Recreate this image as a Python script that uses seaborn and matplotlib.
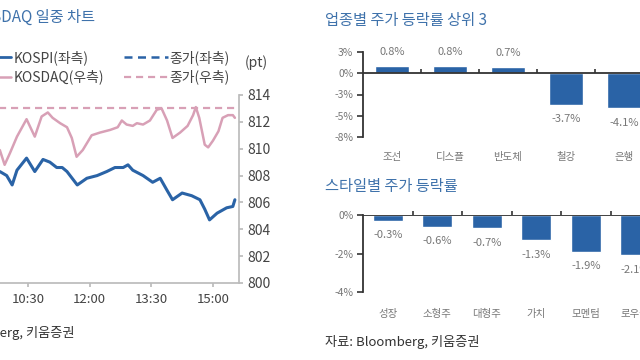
import numpy as np
import pandas as pd
import matplotlib
matplotlib.use('Agg')
import matplotlib.pyplot as plt
import seaborn as sns

# intraday chart (values read in right-axis units, pt)
kosdaq_time = ['09:49', '09:56', '10:04', '10:14', '10:28', '10:40', '10:50', '10:59', '11:06',
               '11:17', '11:27', '11:34', '11:41', '11:50', '12:03', '12:15', '12:30', '12:41',
               '12:47', '12:54', '13:03', '13:09', '13:18', '13:28', '13:38', '13:45', '13:53',
               '14:01', '14:12', '14:23', '14:31', '14:35', '14:40', '14:48', '14:53', '15:00',
               '15:08', '15:14', '15:22', '15:29', '15:32']
kosdaq = [809.9, 808.8, 809.7, 810.9, 812.2, 810.9, 812.4, 812.7, 812.3,
          811.9, 811.6, 810.8, 809.4, 809.9, 811.0, 811.2, 811.4, 811.6,
          812.1, 811.8, 811.7, 811.9, 811.8, 812.1, 812.9, 813.0, 812.1,
          810.8, 811.2, 811.7, 812.5, 813.1, 812.3, 810.3, 810.1, 810.6,
          811.3, 812.3, 812.5, 812.5, 812.3]
kosdaq_close = 813.0

kospi_time = ['09:49', '09:59', '10:07', '10:14', '10:28', '10:40', '10:52', '11:02', '11:12',
              '11:20', '11:27', '11:42', '11:56', '12:11', '12:25', '12:37', '12:49', '12:56',
              '13:03', '13:18', '13:32', '13:43', '13:53', '14:01', '14:15', '14:29', '14:41',
              '14:48', '14:55', '15:06', '15:20', '15:29', '15:32']
kospi = [808.3, 808.0, 807.3, 808.4, 809.3, 808.3, 809.2, 809.0, 808.6,
         808.6, 808.3, 807.3, 807.8, 808.0, 808.3, 808.6, 808.6, 808.8,
         808.4, 808.0, 807.5, 807.8, 806.9, 806.2, 806.7, 806.5, 806.2,
         805.5, 804.7, 805.2, 805.6, 805.7, 806.2]

time_ticks = ['10:30', '12:00', '13:30', '15:00']
right_ticks = [800, 802, 804, 806, 808, 810, 812, 814]

# sector top/bottom 3
sectors = ['조선', '디스플', '반도체', '철강', '은행']
sector_chg = [0.8, 0.8, 0.7, -3.7, -4.1]
sector_ticks = [2.5, 0, -2.5, -5, -7.5]
sector_ticklabels = ['3%', '0%', '-3%', '-5%', '-8%']

# style returns
styles = ['성장', '소형주', '대형주', '가치', '모멘텀', '로우볼']
style_chg = [-0.3, -0.6, -0.7, -1.3, -1.9, -2.1]
style_ticks = [0, -2, -4]
style_ticklabels = ['0%', '-2%', '-4%']


def to_min(s):
    h, m = s.split(':')
    return (int(h) - 9) * 60 + int(m)


sns.set_theme(style='white')
plt.rcParams['font.family'] = ['Noto Sans CJK KR', 'DejaVu Sans']

BLUE = '#2a63a6'
PINK = '#d8a0b6'
TITLE = '#3f72ab'
GRAY = '#777777'

fig = plt.figure(figsize=(6.4, 3.6), dpi=100)

# ---- left: intraday line chart
ax = fig.add_axes([-40.6 / 640, 1 - 283 / 360, 279.6 / 640, 188 / 360])
ax2 = ax.twinx()
kp = pd.DataFrame({'t': [to_min(t) for t in kospi_time], 'v': kospi})
kq = pd.DataFrame({'t': [to_min(t) for t in kosdaq_time], 'v': kosdaq})
sns.lineplot(data=kp, x='t', y='v', ax=ax, color=BLUE, lw=2.2)
sns.lineplot(data=kq, x='t', y='v', ax=ax2, color=PINK, lw=1.8)
ax2.axhline(kosdaq_close, color=PINK, lw=1.6, ls=(0, (3.2, 2.2)))
for a in (ax, ax2):
    a.set_xlim(-10, 398)
    a.set_ylim(800, 814)
    a.set_xlabel('')
    a.set_ylabel('')
    for s in a.spines.values():
        s.set_visible(False)
ax2.spines['right'].set_visible(True)
ax2.spines['right'].set_color('#bbbbbb')
ax.spines['bottom'].set_visible(True)
ax.spines['bottom'].set_color('#bbbbbb')
ax.set_xticks([to_min(t) for t in time_ticks])
ax.set_xticklabels(time_ticks)
ax.tick_params(axis='x', bottom=True, length=3, color='#bbbbbb', labelsize=9.5,
               labelcolor='#444444', pad=4)
ax.set_yticks([])
ax2.set_yticks(right_ticks)
ax2.tick_params(axis='y', right=True, length=3, color='#bbbbbb', labelsize=10,
                labelcolor='#444444', pad=3)

h1, = ax.plot([], [], color=BLUE, lw=2)
h2, = ax.plot([], [], color=PINK, lw=1.8)
h3, = ax.plot([], [], color=BLUE, lw=1.8, ls=(0, (3.2, 2.2)))
h4, = ax.plot([], [], color=PINK, lw=1.6, ls=(0, (3.2, 2.2)))
fig.legend([h1, h2, h3, h4], ['KOSPI(좌측)', 'KOSDAQ(우측)', '종가(좌측)', '종가(우측)'],
           ncol=2, loc='upper left', bbox_to_anchor=(-32 / 640, 1 - 50 / 360),
           frameon=False, fontsize=10, handlelength=3.1, handletextpad=0.15,
           columnspacing=1.5, labelspacing=0.35, borderpad=0, borderaxespad=0,
           labelcolor='#444444')
fig.text(245 / 640, 1 - 63 / 360, '(pt)', fontsize=10, color='#444444', va='center')
fig.text(95 / 640, 1 - 17 / 360, 'KOSPI, KOSDAQ 일중 차트', fontsize=11, color=TITLE,
         ha='right', va='center')
fig.text(75 / 640, 1 - 333 / 360, '자료: Bloomberg, 키움증권', fontsize=9.5, color='#333333',
         ha='right', va='center')


def bar_panel(rect, cats, vals, ticks, ticklabels, ylim, ncat, pad_lab):
    a = fig.add_axes(rect)
    df = pd.DataFrame({'c': cats, 'v': vals})
    sns.barplot(data=df, x='c', y='v', ax=a, color=BLUE, width=0.6, saturation=1)
    a.set_xlim(-0.5, ncat - 0.5)
    a.set_ylim(*ylim)
    a.set_xlabel('')
    a.set_ylabel('')
    for s in ['top', 'right', 'bottom']:
        a.spines[s].set_visible(False)
    a.spines['left'].set_color('#333333')
    a.spines['left'].set_linewidth(1.3)
    a.axhline(0, color='#333333', lw=1.3)
    a.set_yticks(ticks)
    a.set_yticklabels(ticklabels)
    a.tick_params(axis='y', left=True, length=4, width=1.2, color='#333333',
                  labelsize=7.5, labelcolor=GRAY, pad=3)
    a.tick_params(axis='x', bottom=False, labelsize=7.5, labelcolor=GRAY, pad=pad_lab)
    zero = (0 - ylim[0]) / (ylim[1] - ylim[0])
    sec = a.secondary_xaxis(zero)
    sec.set_xticks(np.arange(ncat - 1) + 0.5)
    sec.set_xticklabels([])
    sec.tick_params(length=3, width=1.2, color='#333333', direction='out')
    sec.spines['bottom'].set_visible(False)
    sec.spines['top'].set_visible(False)
    for c in a.containers:
        a.bar_label(c, labels=[f'{v:.1f}%' for v in vals], padding=7,
                    fontsize=8, color=GRAY)
    return a


bar_panel([363 / 640, 1 - 137 / 360, 348 / 640, 85 / 360], sectors, sector_chg,
          sector_ticks, sector_ticklabels, (-7.5, 2.5), 6, 5)
fig.text(325 / 640, 1 - 20 / 360, '업종별 주가 등락률 상위 3', fontsize=11, color=TITLE,
         va='center')

bar_panel([363 / 640, 1 - 292 / 360, 346.5 / 640, 77 / 360], styles, style_chg,
          style_ticks, style_ticklabels, (-4, 0), 7, 6)
fig.text(325 / 640, 1 - 186 / 360, '스타일별 주가 등락률', fontsize=11, color=TITLE,
         va='center')
fig.text(325 / 640, 1 - 342 / 360, '자료: Bloomberg, 키움증권', fontsize=9.5, color='#333333',
         va='center')

fig.savefig('out.png', dpi=100)
